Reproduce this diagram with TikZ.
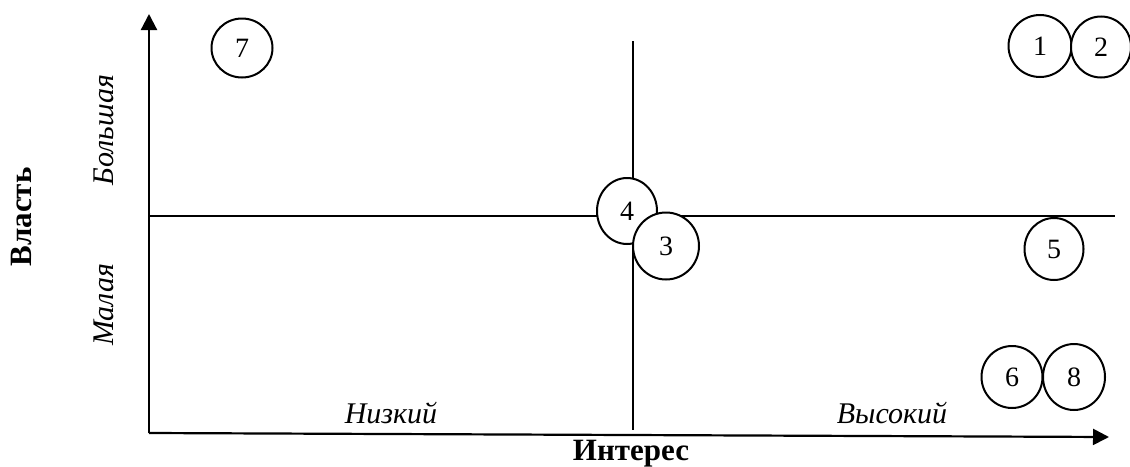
\documentclass[tikz,border=0pt]{standalone}
\usepackage{fontspec}
\setmainfont{Liberation Serif}
\usetikzlibrary{arrows.meta,shapes.geometric}
\begin{document}
\begin{tikzpicture}[x=1pt,y=-1pt,
  axisline/.style={line width=2.2pt,-{Triangle[length=16pt,width=16pt]}},
  divline/.style={line width=2pt},
  stake/.style={draw,ellipse,line width=2pt,fill=white,inner sep=0pt,
     font=\fontsize{28}{32}\selectfont},
  axtitle/.style={font=\fontsize{31}{36}\selectfont\bfseries,inner sep=0pt},
  axlabel/.style={font=\fontsize{30}{36}\selectfont\itshape,inner sep=0pt}]
\useasboundingbox (0,0) rectangle (1130,466);
\coordinate (O) at (149,433);
\coordinate (ytop) at (149,14);
\coordinate (xend) at (1109,437);
\coordinate (hl) at (149,216);
\coordinate (hr) at (1115,216);
\coordinate (vt) at (633,41);
\coordinate (vb) at (633,430);
\draw[divline] (hl) -- (hr);
\draw[divline] (vt) -- (vb);
\draw[axisline] (O) -- (ytop);
\draw[axisline] (O) -- (xend);
% stakeholders
\node[stake,minimum width=61pt,minimum height=59pt] (s7) at (242,48) {\raisebox{-2pt}{7}};
\node[stake,minimum width=63pt,minimum height=62pt] (s1) at (1040,46) {\raisebox{-2pt}{1}};
\node[stake,minimum width=60pt,minimum height=61pt] (s2) at (1101,47) {\raisebox{-2pt}{2}};
\node[stake,minimum width=60pt,minimum height=66pt] (s4) at (627,211) {\raisebox{-2pt}{4}};
\node[stake,minimum width=66pt,minimum height=67pt] (s3) at (666,246) {\raisebox{-2pt}{3}};
\node[stake,minimum width=59pt,minimum height=62pt] (s5) at (1054,249) {\raisebox{-2pt}{5}};
\node[stake,minimum width=61pt,minimum height=62pt] (s6) at (1012,377) {\raisebox{-2pt}{6}};
\node[stake,minimum width=62pt,minimum height=66pt] (s8) at (1074,377) {\raisebox{-2pt}{8}};
% labels
\node[axtitle,rotate=90] (power) at (22,217) {Власть};
\node[axlabel,rotate=90] (big) at (104,130) {Большая};
\node[axlabel,rotate=90] (small) at (104,305) {Малая};
\node[axlabel] (low) at (391,413) {Низкий};
\node[axlabel] (high) at (892,413) {Высокий};
\node[axtitle] (interest) at (631,454) {Интерес};
\end{tikzpicture}
\end{document}
